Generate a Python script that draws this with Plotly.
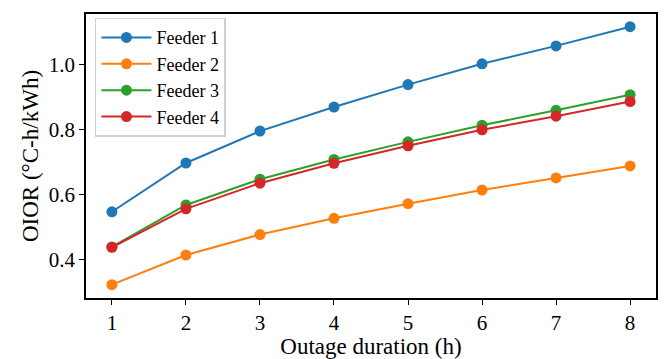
import plotly.graph_objects as go

hours = [1, 2, 3, 4, 5, 6, 7, 8]
feeder1 = [0.548, 0.698, 0.796, 0.870, 0.939, 1.003, 1.058, 1.117]
feeder2 = [0.324, 0.415, 0.478, 0.528, 0.573, 0.615, 0.652, 0.689]
feeder3 = [0.440, 0.569, 0.648, 0.709, 0.763, 0.814, 0.860, 0.908]
feeder4 = [0.439, 0.557, 0.636, 0.697, 0.751, 0.800, 0.842, 0.887]
names = ["Feeder 1", "Feeder 2", "Feeder 3", "Feeder 4"]
colors = ["#1f77b4", "#ff7f0e", "#2ca02c", "#d62728"]

fig = go.Figure()
for name, vals, c in zip(names, [feeder1, feeder2, feeder3, feeder4], colors):
    fig.add_trace(go.Scatter(x=hours, y=vals, name=name, mode="lines+markers",
                             line=dict(color=c, width=2),
                             marker=dict(color=c, size=11)))

font = "Liberation Serif, serif"
axis_common = dict(showline=True, linecolor="black", linewidth=1.6, mirror=True,
                   ticks="outside", ticklen=5, tickwidth=1.3, tickcolor="black",
                   showgrid=False, zeroline=False,
                   tickfont=dict(family=font, size=21, color="black"))
fig.update_layout(
    width=665, height=359,
    margin=dict(l=86, r=7, t=14, b=61),
    plot_bgcolor="white", paper_bgcolor="white",
    font=dict(family=font, color="black"),
    xaxis=dict(range=[0.65, 8.35], tickvals=hours,
               title=dict(text="Outage duration (h)", font=dict(family=font, size=23), standoff=1),
               **axis_common),
    yaxis=dict(range=[0.283, 1.156], tickvals=[0.4, 0.6, 0.8, 1.0], ticktext=["0.4", "0.6", "0.8", "1.0"],
               title=dict(text="OIOR (°C-h/kWh)", font=dict(family=font, size=23), standoff=4),
               **axis_common),
    legend=dict(x=0.0157, y=0.987, xanchor="left", yanchor="top",
                bgcolor="white", bordercolor="#d0d0d0", borderwidth=1.5,
                font=dict(family=font, size=18, color="black"),
                itemwidth=50, tracegroupgap=0),
)
fig.write_html("out.html")
